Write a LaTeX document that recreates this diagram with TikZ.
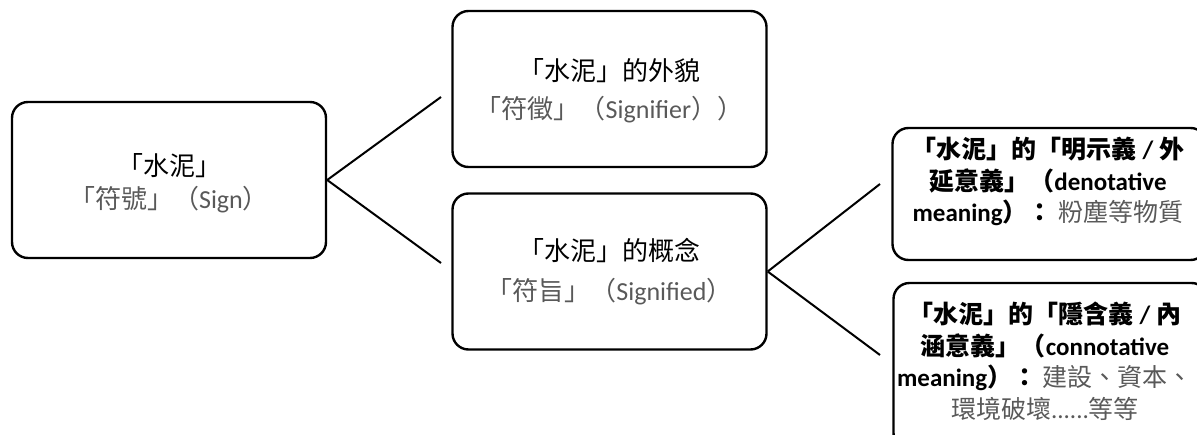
\documentclass[tikz,border=0pt]{standalone}
\usepackage{fontspec}
\setmainfont{Carlito}
\newfontfamily\cjk{Noto Sans CJK TC}
\definecolor{txtgray}{RGB}{89,89,89}
\begin{document}
\begin{tikzpicture}[x=1pt,y=-1pt,
  box/.style={draw, line width=2.4pt, rounded corners=16pt, minimum width=314pt, minimum height=156pt, inner sep=0pt},
  conn/.style={line width=2pt},
  lbl/.style={align=center, inner sep=0pt, font=\fontsize{26}{33}\selectfont},
  rlbl/.style={align=center, inner sep=0pt, font=\fontsize{25}{31.5}\selectfont}]
\clip (0,0) rectangle (1197,434);
% boxes
\node[box] (A) at (169,180) {};
\node[box] (B) at (609.5,89) {};
\node[box] (C) at (609.5,271.5) {};
\node[box, minimum height=132pt] (D) at (1049.5,194) {};
\node[box, minimum height=166pt] (E) at (1050.5,366) {};
% texts
\node[lbl] (At) at (169,183.5) {{\cjk 「水泥」}\\\textcolor{txtgray}{{\cjk 「符號」（}Sign{\cjk ）}}};
\node[lbl, font=\fontsize{26}{38}\selectfont] (Bt) at (609.5,91) {{\cjk 「水泥」的外貌}\\\textcolor{txtgray}{{\cjk 「符徵」（}Signifier{\cjk ））}}};
\node[lbl, font=\fontsize{26}{40}\selectfont] (Ct) at (609.5,272) {{\cjk 「水泥」的概念}\\\textcolor{txtgray}{{\cjk 「符旨」（}Signified{\cjk ）}}};
\node[rlbl] (Dt) at (1048,181.5) {\bfseries{\cjk 「水泥」的「明示義} / {\cjk 外}\\
  \bfseries{\cjk 延意義」（}denotative\\
  {\bfseries meaning{\cjk ）：}} \textcolor{txtgray}{\cjk 粉塵等物質}};
\node[rlbl] (Et) at (1045,361) {\bfseries{\cjk 「水泥」的「隱含義} / {\cjk 內}\\
  \bfseries{\cjk 涵意義」（}connotative\\
  {\bfseries meaning{\cjk ）：}} \textcolor{txtgray}{\cjk 建設、資本、}\\
  \textcolor{txtgray}{{\cjk 環境破壞}......{\cjk 等等}}};
% connector ends
\coordinate (Bend) at (441,97);
\coordinate (Cend) at (441,263);
\coordinate (Dend) at (880,184);
\coordinate (Eend) at (880,355);
\draw[conn] (A.east) -- (Bend);
\draw[conn] (A.east) -- (Cend);
\draw[conn] (C.east) -- (Dend);
\draw[conn] (C.east) -- (Eend);
\end{tikzpicture}
\end{document}
